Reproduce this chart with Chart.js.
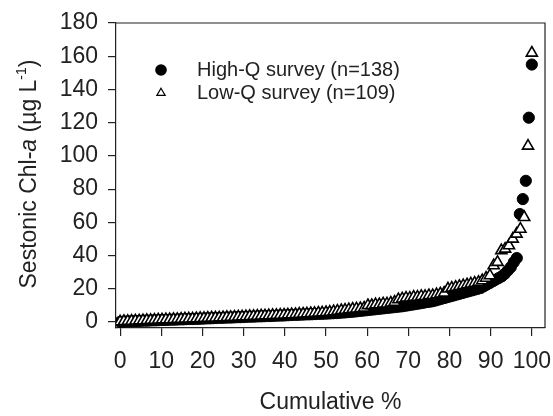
<!DOCTYPE html>
<html>
<head>
<meta charset="utf-8">
<script src="https://cdn.jsdelivr.net/npm/chart.js@4.4.1/dist/chart.umd.min.js"></script>
<style>
  html, body { margin: 0; padding: 0; background: #fff; }
  canvas { display: block; }
</style>
</head>
<body>
<canvas id="chlChart" width="553" height="416"></canvas>
<script>
// ==========================================
// 1. DATEN (Chl-a in µg/L, aufsteigend sortiert)
// ==========================================

const highQLabel = 'High-Q survey (n=138)';
const lowQLabel = 'Low-Q survey (n=109)';

const highQValues = [
    0.1, 0.2, 0.3, 0.4, 0.5, 0.6, 0.6, 0.7, 0.8, 0.8, 0.9, 1.0, 1.0, 1.1,
    1.2, 1.2, 1.3, 1.4, 1.4, 1.5, 1.6, 1.6, 1.7, 1.8, 1.8, 1.9, 1.9, 2.0,
    2.1, 2.2, 2.2, 2.3, 2.4, 2.5, 2.5, 2.6, 2.7, 2.7, 2.8, 2.9, 2.9, 3.0,
    3.1, 3.2, 3.2, 3.3, 3.4, 3.4, 3.5, 3.6, 3.6, 3.7, 3.8, 3.9, 3.9, 4.0,
    4.1, 4.2, 4.3, 4.3, 4.4, 4.5, 4.6, 4.6, 4.7, 4.8, 4.9, 4.9, 5.0,
    5.1, 5.2, 5.3, 5.4, 5.5, 5.7,
    5.8, 6.0, 6.1, 6.3, 6.5, 6.7, 6.9, 7.1, 7.3, 7.5, 7.7, 7.9, 8.1, 8.3,
    8.5, 8.7, 8.9, 9.1, 9.3, 9.5, 9.8, 10.1, 10.4, 10.7, 11.0, 11.3, 11.6,
    12.0, 12.2, 12.5, 13.0, 13.5, 14.0, 14.5, 15.0, 15.5, 16.0, 16.5, 17.0,
    17.5, 18.0, 18.5, 19.0, 19.5, 20.0, 20.5, 21.5, 22.5, 23.5, 24.5, 25.5,
    26.5, 27.5, 29, 31, 33, 36, 38.5, 65, 74, 85, 123, 155
];

const lowQValues = [
    0.2, 0.4, 0.5, 0.6, 0.7, 0.8, 0.9, 1.0, 1.1, 1.2, 1.3,
    1.4, 1.5, 1.5, 1.6, 1.7, 1.8, 1.9, 1.9, 2.0, 2.1, 2.2,
    2.3, 2.4, 2.5, 2.5, 2.6, 2.7, 2.8, 2.9, 3.0, 3.1, 3.2,
    3.3, 3.4, 3.5, 3.6, 3.7, 3.8, 3.9, 4.0, 4.1, 4.2, 4.3,
    4.4, 4.5, 4.6, 4.8, 4.9, 5.0, 5.2, 5.3, 5.5, 5.6, 5.8,
    6.0, 6.3, 6.6,
    7.0, 7.2, 7.5, 7.8, 8.0, 8.2, 8.5,
    10, 10, 10.5, 10.5, 11, 11, 11.5, 12, 13.5, 14, 14.5, 14.5, 15, 15,
    15.5, 15.5, 16, 16, 16.5, 17, 17.5, 20, 20.5, 21, 21.5, 22, 22.5, 23,
    23.5, 24, 25, 26.5, 28, 34, 36, 43, 44, 46, 50, 53, 56, 63, 106, 162
];

const xTickValues = [0, 10, 20, 30, 40, 50, 60, 70, 80, 90, 100];
const yTickValues = [0, 20, 40, 60, 80, 100, 120, 140, 160, 180];

const fontFamily = '"Liberation Sans", Arial, Helvetica, sans-serif';
const inkColor = '#222';

// Rang -> kumulativer Anteil in %
function toCumulative(values) {
    return values.map((v, i) => ({ x: i / (values.length - 1) * 100, y: v }));
}

// ==========================================
// 2. PLUGIN: Rahmen, Legende, Y-Achsentitel
// ==========================================

const frameAndLabels = {
    id: 'frameAndLabels',
    afterDraw(chart) {
        const ctx = chart.ctx;
        const area = chart.chartArea;
        ctx.save();

        // Rahmen oben und rechts
        ctx.strokeStyle = inkColor;
        ctx.lineWidth = 1.2;
        ctx.beginPath();
        ctx.moveTo(area.left, area.top);
        ctx.lineTo(area.right, area.top);
        ctx.lineTo(area.right, area.bottom);
        ctx.stroke();

        // Legende
        const sets = chart.data.datasets;
        ctx.fillStyle = '#000';
        ctx.beginPath();
        ctx.arc(161, 70, 5.8, 0, Math.PI * 2);
        ctx.fill();

        const r = 4.8;
        ctx.beginPath();
        ctx.moveTo(161, 93 - r);
        ctx.lineTo(161 + Math.sin(2 * Math.PI / 3) * r, 93 + r / 2);
        ctx.lineTo(161 - Math.sin(2 * Math.PI / 3) * r, 93 + r / 2);
        ctx.closePath();
        ctx.fillStyle = '#fff';
        ctx.fill();
        ctx.lineWidth = 1.2;
        ctx.strokeStyle = '#000';
        ctx.stroke();

        ctx.fillStyle = inkColor;
        ctx.font = '20px ' + fontFamily;
        ctx.textAlign = 'left';
        ctx.textBaseline = 'middle';
        ctx.fillText(sets[1].label, 197, 70);
        ctx.fillText(sets[0].label, 197, 93);

        // Y-Achsentitel mit kursivem "a" und Hochzahl
        const normal = '23px ' + fontFamily;
        const parts = [
            { text: 'Sestonic Chl-', font: normal, dy: 0 },
            { text: 'a', font: 'italic 23px ' + fontFamily, dy: 0 },
            { text: ' (µg L', font: normal, dy: 0 },
            { text: '-1', font: '14px ' + fontFamily, dy: -8 },
            { text: ')', font: normal, dy: 0 }
        ];
        let total = 0;
        parts.forEach(p => {
            ctx.font = p.font;
            p.w = ctx.measureText(p.text).width;
            total += p.w;
        });
        ctx.translate(30, 174);
        ctx.rotate(-Math.PI / 2);
        let x = -total / 2;
        parts.forEach(p => {
            ctx.font = p.font;
            ctx.fillText(p.text, x, p.dy);
            x += p.w;
        });

        ctx.restore();
    }
};

// ==========================================
// 3. CHART.JS KONFIGURATION
// ==========================================

const config = {
    type: 'scatter',
    data: {
        datasets: [
            {
                label: lowQLabel,
                data: toCumulative(lowQValues),
                pointStyle: 'triangle',
                pointRadius: 6.4,
                backgroundColor: '#fff',
                borderColor: '#000',
                borderWidth: 1.6,
                order: 0
            },
            {
                label: highQLabel,
                data: toCumulative(highQValues),
                pointStyle: 'circle',
                pointRadius: 5.6,
                backgroundColor: '#000',
                borderColor: '#000',
                borderWidth: 1,
                order: 1
            }
        ]
    },
    options: {
        responsive: false,
        animation: false,
        events: [],
        layout: { padding: { top: 23, right: 7, bottom: 0, left: 0 } },
        plugins: {
            legend: { display: false },
            tooltip: { enabled: false }
        },
        scales: {
            x: {
                type: 'linear',
                min: -1,
                max: 103.2,
                afterBuildTicks: scale => { scale.ticks = xTickValues.map(v => ({ value: v })); },
                afterFit: scale => {
                    scale.height = 88;
                    scale.paddingLeft = 0;
                    scale.paddingRight = 0;
                },
                grid: { drawOnChartArea: false, tickLength: 8, color: inkColor, lineWidth: 1.2 },
                border: { display: true, color: inkColor, width: 1.2 },
                ticks: {
                    autoSkip: false,
                    maxRotation: 0,
                    padding: 12,
                    color: inkColor,
                    font: { size: 23, family: fontFamily }
                },
                title: {
                    display: true,
                    text: 'Cumulative %',
                    color: inkColor,
                    padding: 0,
                    font: { size: 23, family: fontFamily }
                }
            },
            y: {
                type: 'linear',
                min: -3.6,
                max: 180,
                afterBuildTicks: scale => { scale.ticks = yTickValues.map(v => ({ value: v })); },
                afterFit: scale => {
                    scale.width = 116;
                    scale.paddingTop = 0;
                    scale.paddingBottom = 0;
                },
                grid: { drawOnChartArea: false, tickLength: 8, color: inkColor, lineWidth: 1.2 },
                border: { display: true, color: inkColor, width: 1.2 },
                ticks: {
                    padding: 10,
                    color: inkColor,
                    font: { size: 23, family: fontFamily }
                }
            }
        }
    },
    plugins: [frameAndLabels]
};

new Chart(document.getElementById('chlChart'), config);
</script>
</body>
</html>
